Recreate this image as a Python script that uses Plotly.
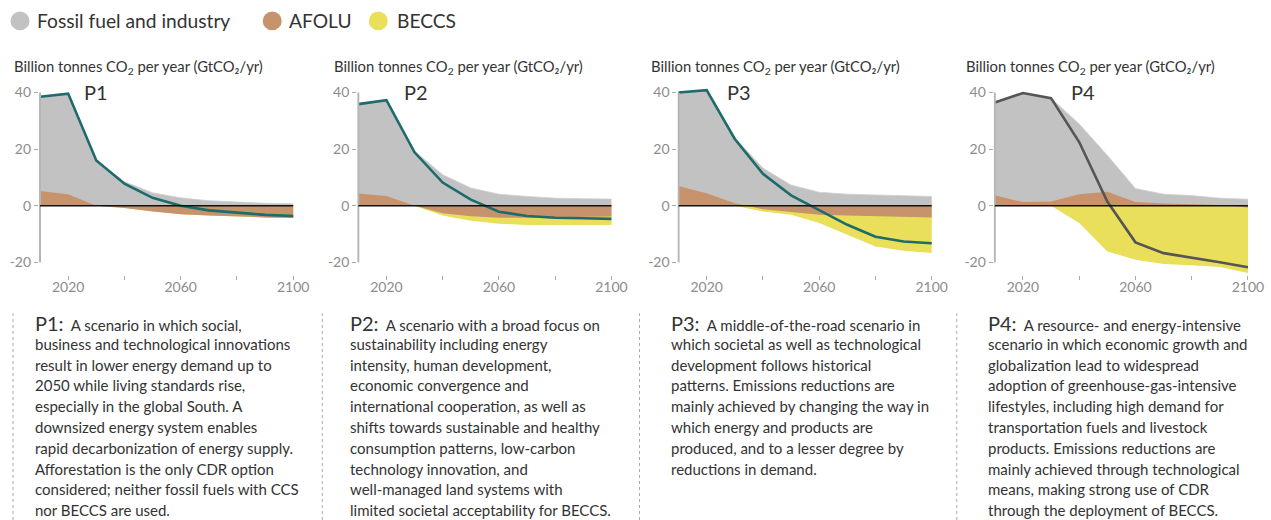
import plotly.graph_objects as go

# ---------------- data (GtCO2/yr) ----------------
years = [2010, 2020, 2030, 2040, 2050, 2060, 2070, 2080, 2090, 2100]

p1_fossil = [33.3, 35.5, 16.0, 8.5, 4.6, 2.8, 1.8, 1.3, 0.9, 0.7]
p1_afolu = [5.2, 4.1, 0.0, -0.8, -2.0, -3.0, -3.4, -3.8, -4.1, -4.3]
p1_beccs = [0, 0, 0, 0, 0, 0, 0, 0, 0, 0]
p1_net = [38.5, 39.6, 16.0, 7.8, 2.8, 0.0, -1.6, -2.4, -3.2, -3.6]

p2_fossil = [31.7, 33.8, 19.3, 11.0, 6.3, 4.1, 3.3, 2.7, 2.5, 2.4]
p2_afolu = [4.3, 3.5, 0.0, -2.6, -3.7, -4.2, -4.2, -4.0, -3.9, -3.8]
p2_beccs = [0, 0, 0, -0.8, -1.6, -2.1, -2.6, -2.8, -2.9, -3.0]
p2_net = [35.9, 37.3, 18.9, 8.2, 2.2, -2.1, -3.6, -4.2, -4.4, -4.6]

p3_fossil = [33.0, 36.4, 23.1, 13.3, 7.3, 4.8, 4.1, 3.9, 3.5, 3.3]
p3_afolu = [7.0, 4.4, 0.9, -1.2, -2.2, -3.2, -3.4, -3.7, -4.0, -4.1]
p3_beccs = [0, 0, 0, -0.8, -1.0, -2.9, -6.9, -10.7, -11.9, -12.6]
p3_net = [40.0, 40.8, 23.6, 11.3, 3.7, -1.4, -6.7, -10.9, -12.6, -13.2]

p4_fossil = [32.8, 38.5, 36.5, 24.8, 12.8, 4.8, 3.3, 3.0, 2.4, 2.3]
p4_afolu = [3.7, 1.3, 1.5, 4.1, 5.0, 1.3, 0.8, 0.6, 0.3, -0.6]
p4_beccs = [0, 0, 0, -6.1, -16.1, -19.0, -20.5, -21.0, -21.6, -23.1]
p4_net = [36.5, 39.8, 38.0, 22.5, 1.5, -12.9, -16.7, -18.2, -19.9, -21.7]

scenario_names = ["P1", "P2", "P3", "P4"]
legend_labels = ["Fossil fuel and industry", "AFOLU", "BECCS"]
y_ticks = [-20, 0, 20, 40]
y_ticktext = ["-20", "0", "20", "40"]
x_ticks = [2020, 2040, 2060, 2080, 2100]
x_ticktext = ["2020", "", "2060", "", "2100"]
y_title = "Billion tonnes CO<sub>2</sub> per year (GtCO₂/yr)"

descriptions = [
    ["A scenario in which social,",
     "business and technological innovations",
     "result in lower energy demand up to",
     "2050 while living standards rise,",
     "especially in the global South. A",
     "downsized energy system enables",
     "rapid decarbonization of energy supply.",
     "Afforestation is the only CDR option",
     "considered; neither fossil fuels with CCS",
     "nor BECCS are used."],
    ["A scenario with a broad focus on",
     "sustainability including energy",
     "intensity, human development,",
     "economic convergence and",
     "international cooperation, as well as",
     "shifts towards sustainable and healthy",
     "consumption patterns, low-carbon",
     "technology innovation, and",
     "well-managed land systems with",
     "limited societal acceptability for BECCS."],
    ["A middle-of-the-road scenario in",
     "which societal as well as technological",
     "development follows historical",
     "patterns. Emissions reductions are",
     "mainly achieved by changing the way in",
     "which energy and products are",
     "produced, and to a lesser degree by",
     "reductions in demand."],
    ["A resource- and energy-intensive",
     "scenario in which economic growth and",
     "globalization lead to widespread",
     "adoption of greenhouse-gas-intensive",
     "lifestyles, including high demand for",
     "transportation fuels and livestock",
     "products. Emissions reductions are",
     "mainly achieved through technological",
     "means, making strong use of CDR",
     "through the deployment of BECCS."],
]

scenarios = [
    (p1_fossil, p1_afolu, p1_beccs, p1_net),
    (p2_fossil, p2_afolu, p2_beccs, p2_net),
    (p3_fossil, p3_afolu, p3_beccs, p3_net),
    (p4_fossil, p4_afolu, p4_beccs, p4_net),
]

# ---------------- style ----------------
REF_W = 1271
W, H = 1287, 520
FONT = "Lato"
GRAY = "#c2c2c2"
BROWN = "#c7936c"
YELLOW = "#e9df5a"
TEAL = "#1d6b6b"
DARKLINE = "#555555"
TXT = "#333333"
TICK = "#8c8c8c"


def px_x(v):
    # reference pixel -> paper fraction
    return v / REF_W


def px_y(v):
    return 1 - v / H


panel_x2010 = [40, 358, 678, 994]   # reference pixel of year 2010
panel_w = 253                        # reference pixels for 90 years
XR = [2009.6, 2100.5]
YR = [-24.5, 42]
y_top_px, y_bot_px = 84.3, 273.8
label_year = [2025, 2025.7, 2026.4, 2036.4]
title_px = [12, 332, 648, 963]
text_px = [33, 348, 668, 985]
sep_px = [13, 322, 639, 956]

fig = go.Figure()
layout = dict(
    width=W, height=H, margin=dict(l=0, r=0, t=0, b=0),
    paper_bgcolor="white", plot_bgcolor="rgba(0,0,0,0)",
    showlegend=False, font=dict(family=FONT, color=TXT),
)
shapes = []
annotations = []

ppy = panel_w / 90.0
for i, (fossil, afolu, beccs, net) in enumerate(scenarios):
    sfx = "" if i == 0 else str(i + 1)
    xa, ya = "x" + sfx, "y" + sfx
    pos_af = [max(a, 0) for a in afolu]
    neg_af = [min(a, 0) for a in afolu]
    gray_top = [p + f for p, f in zip(pos_af, fossil)]
    yel_bot = [n + b for n, b in zip(neg_af, beccs)]

    fig.add_trace(go.Scatter(x=years, y=gray_top, mode="lines", fill="tozeroy",
                             fillcolor=GRAY, line=dict(width=0.8, color="#cfcfcf"),
                             xaxis=xa, yaxis=ya, hoverinfo="skip"))
    fig.add_trace(go.Scatter(x=years, y=yel_bot, mode="lines", fill="tozeroy",
                             fillcolor=YELLOW, line=dict(width=0),
                             xaxis=xa, yaxis=ya, hoverinfo="skip"))
    fig.add_trace(go.Scatter(x=years, y=afolu, mode="lines", fill="tozeroy",
                             fillcolor=BROWN, line=dict(width=0),
                             xaxis=xa, yaxis=ya, hoverinfo="skip"))
    fig.add_trace(go.Scatter(x=years, y=net, mode="lines",
                             line=dict(width=2.6, color=DARKLINE if i == 3 else TEAL),
                             xaxis=xa, yaxis=ya, hoverinfo="skip"))

    x0px = panel_x2010[i] - (2010 - XR[0]) * ppy
    x1px = panel_x2010[i] + (XR[1] - 2010) * ppy
    layout["xaxis" + sfx] = dict(
        domain=[px_x(x0px), px_x(x1px)], range=XR, anchor=ya,
        showgrid=False, zeroline=False, showline=False,
        tickmode="array", tickvals=x_ticks, ticktext=x_ticktext,
        ticks="outside", ticklen=4, tickwidth=1, tickcolor="#aaaaaa",
        ticklabelstandoff=-5,
        tickfont=dict(family=FONT, size=14, color=TICK), fixedrange=True,
    )
    layout["yaxis" + sfx] = dict(
        domain=[px_y(y_bot_px), px_y(y_top_px)], range=YR, anchor=xa,
        showgrid=False, zeroline=False, showline=False,
        tickmode="array", tickvals=y_ticks, ticktext=y_ticktext,
        ticks="outside", ticklen=4, tickwidth=1, tickcolor="#aaaaaa",
        tickfont=dict(family=FONT, size=14, color=TICK), fixedrange=True,
    )
    # y axis line (from -20 to 40) and zero line
    shapes.append(dict(type="line", xref=xa, yref=ya, x0=2010, x1=2010,
                       y0=-20, y1=40, line=dict(color="#b5b5b5", width=2), layer="above"))
    shapes.append(dict(type="line", xref=xa, yref=ya, x0=2010, x1=2100,
                       y0=0, y1=0, line=dict(color="#111111", width=1.6), layer="above"))
    # scenario label
    annotations.append(dict(x=label_year[i], y=40, xref=xa, yref=ya, text=scenario_names[i],
                            showarrow=False, xanchor="left", yanchor="middle",
                            font=dict(family=FONT, size=20, color=TXT)))
    # axis title
    annotations.append(dict(x=px_x(title_px[i]), y=px_y(64), xref="paper", yref="paper",
                            text=y_title, showarrow=False, xanchor="left", yanchor="middle",
                            font=dict(family=FONT, size=14.8, color=TXT)))
    # description block
    for j, line in enumerate(descriptions[i]):
        txt = line
        if j == 0:
            txt = "<span style='font-size:20px'>%s:</span>  %s" % (scenario_names[i], line)
        annotations.append(dict(x=px_x(text_px[i]), y=px_y(322 + j * 20.9),
                                xref="paper", yref="paper", text=txt, showarrow=False,
                                xanchor="left", yanchor="middle",
                                font=dict(family=FONT, size=15.0, color=TXT)))
    # dotted separator
    shapes.append(dict(type="line", xref="paper", yref="paper",
                       x0=px_x(sep_px[i]), x1=px_x(sep_px[i]), y0=0, y1=px_y(312),
                       line=dict(color="#aaaaaa", width=1, dash="dot")))

# legend
leg_circle_px = [20, 272, 378]
leg_text_px = [35, 287, 395]
for c, cx, tx, lab in zip([GRAY, BROWN, YELLOW], leg_circle_px, leg_text_px, legend_labels):
    shapes.append(dict(type="circle", xref="paper", yref="paper",
                       x0=px_x(cx - 9.5), x1=px_x(cx + 9.5),
                       y0=px_y(27.5), y1=px_y(8.5),
                       fillcolor=c, line=dict(width=0)))
    annotations.append(dict(x=px_x(tx), y=px_y(18), xref="paper", yref="paper", text=lab,
                            showarrow=False, xanchor="left", yanchor="middle",
                            font=dict(family=FONT, size=19.2, color=TXT)))

layout["shapes"] = shapes
layout["annotations"] = annotations
fig.update_layout(**layout)
fig.write_html("out.html", config={"displayModeBar": False},
               post_script="document.body.style.margin='0';document.body.style.overflow='hidden';")
